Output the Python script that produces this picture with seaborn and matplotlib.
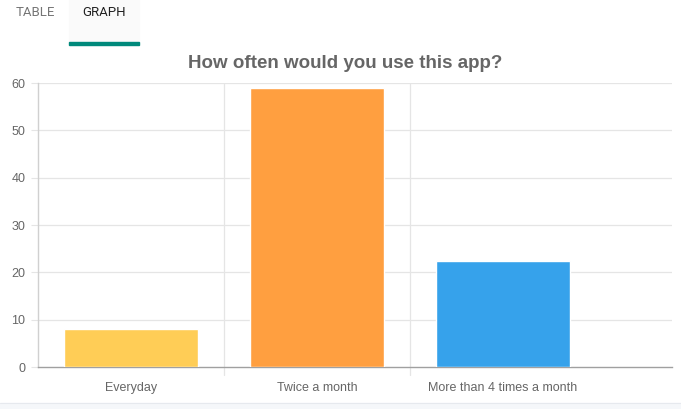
import matplotlib.pyplot as plt
import seaborn as sns
from matplotlib.patches import Rectangle

# data
categories = ["Everyday", "Twice a month", "More than 4 times a month"]
values = [8, 59, 22.3]
colors = ["#ffcd56", "#ff9f40", "#36a2eb"]
yticks = [0, 10, 20, 30, 40, 50, 60]

sns.set_style("white")
plt.rcParams["font.family"] = ["Liberation Sans", "DejaVu Sans"]

fig = plt.figure(figsize=(6.81, 4.09), dpi=100)
W, H = 681, 409

# tab strip at the top
fig.patches.append(Rectangle((69 / W, 1 - 44 / H), 70 / W, 44 / H,
                             transform=fig.transFigure, color="#fafafa", zorder=0))
fig.patches.append(Rectangle((69 / W, 1 - 45 / H), 70 / W, 3 / H,
                             transform=fig.transFigure, color="#00897b", zorder=1))
fig.text(35 / W, 1 - 13 / H, "TABLE", ha="center", va="center", fontsize=9.5,
         color="#757575", family=["Roboto", "DejaVu Sans"])
fig.text(104 / W, 1 - 13 / H, "GRAPH", ha="center", va="center", fontsize=9.5,
         color="#212121", family=["Roboto", "DejaVu Sans"])
# light band at the bottom
fig.patches.append(Rectangle((0, 0), 1, 6 / H, transform=fig.transFigure,
                             color="#f5f7fa", zorder=0))
fig.lines.append(plt.Line2D([0, 1], [6 / H, 6 / H], transform=fig.transFigure,
                            color="#e6e9ee", lw=0.8))

# chart title, centred on the chart canvas rather than the plot area
fig.text(345 / W, 1 - 63 / H, "How often would you use this app?", ha="center",
         va="center", fontsize=13.5, fontweight="bold", color="#666666")

ax = fig.add_axes([38 / W, 1 - 367 / H, (672 - 38) / W, (367 - 83) / H])
df = {"category": categories, "value": values}
sns.barplot(x="category", y="value", data=df, hue="category", palette=colors,
            legend=False, width=0.72, saturation=1, ax=ax, zorder=3)

ax.set_xlim(-0.5, 2.91)
ax.set_ylim(0, 60)
ax.set_yticks(yticks)
ax.set_xlabel("")
ax.set_ylabel("")

for y in yticks[1:]:
    ax.axhline(y, color="#e5e5e5", lw=0.9, zorder=1)
for x in [0.5, 1.5]:
    ax.axvline(x, color="#e5e5e5", lw=0.9, zorder=1)
    ax.plot([x, x], [0, -0.028], transform=ax.get_xaxis_transform(),
            color="#e5e5e5", lw=0.9, clip_on=False)

for s in ["top", "right"]:
    ax.spines[s].set_visible(False)
ax.spines["left"].set_color("#d0d0d0")
ax.spines["bottom"].set_color("#a0a0a0")
ax.spines["left"].set_linewidth(1)
ax.spines["bottom"].set_linewidth(1)

ax.tick_params(axis="y", left=True, length=5, color="#e5e5e5", labelsize=9,
               labelcolor="#666666", pad=4)
ax.tick_params(axis="x", bottom=False, labelsize=9, labelcolor="#666666", pad=7)

fig.savefig("out.png", dpi=100)
